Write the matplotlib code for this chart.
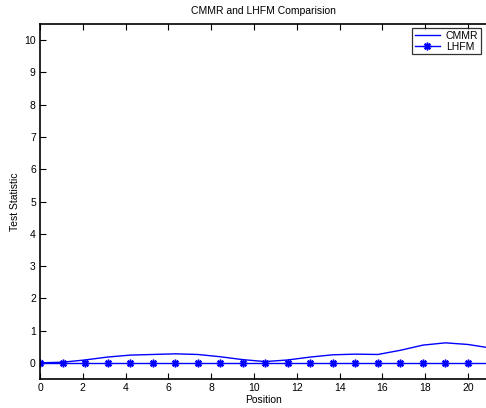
import matplotlib
matplotlib.use("Agg")
import matplotlib.pyplot as plt
import numpy as np

plt.rcParams['font.family'] = ['Liberation Sans', 'DejaVu Sans']

positions = [i * 20 / 19 for i in range(21)]
cmmr = [0.0, 0.02, 0.09, 0.18, 0.24, 0.26, 0.28, 0.26, 0.19, 0.10, 0.04,
        0.09, 0.18, 0.25, 0.27, 0.26, 0.39, 0.55, 0.62, 0.57, 0.46]
lhfm = [0.0] * 21
xticks = list(range(0, 21, 2))
yticks = list(range(0, 11))

fig = plt.figure(figsize=(4.86, 4.08), dpi=100)
ax = fig.add_axes([40/486, 1 - 379/408, 447/486, (379-24)/408])

ax.plot(positions, cmmr, color='#0000ff', lw=1.0, label='CMMR')
ax.plot(positions, lhfm, color='#0000ff', lw=1.0, marker=(8, 2, 0), ms=5.5,
        mew=1.1, label='LHFM')

ax.set_xlim(0, 447/21.4)
ax.set_ylim(-0.5, 10.5)
ax.set_xticks(xticks)
ax.set_yticks(yticks)
ax.tick_params(direction='in', top=True, right=False, labelsize=7.5, length=4, width=0.8, pad=3)
for s in ax.spines.values():
    s.set_linewidth(1.2)
ax.spines['right'].set_visible(False)
ax.set_title('CMMR and LHFM Comparision', fontsize=7.5, pad=7)
ax.set_xlabel('Position', fontsize=7.5, labelpad=1)
ax.set_ylabel('Test Statistic', fontsize=7.5, labelpad=3)
leg = ax.legend(loc='upper right', bbox_to_anchor=((481-40)/447, 1 - 4/355), fontsize=7.5,
                frameon=True, fancybox=False, edgecolor='black', handlelength=2.4,
                borderpad=0.25, labelspacing=0.1, handletextpad=0.6, borderaxespad=0)
leg.get_frame().set_linewidth(0.9)

fig.savefig('out.png', dpi=100)
